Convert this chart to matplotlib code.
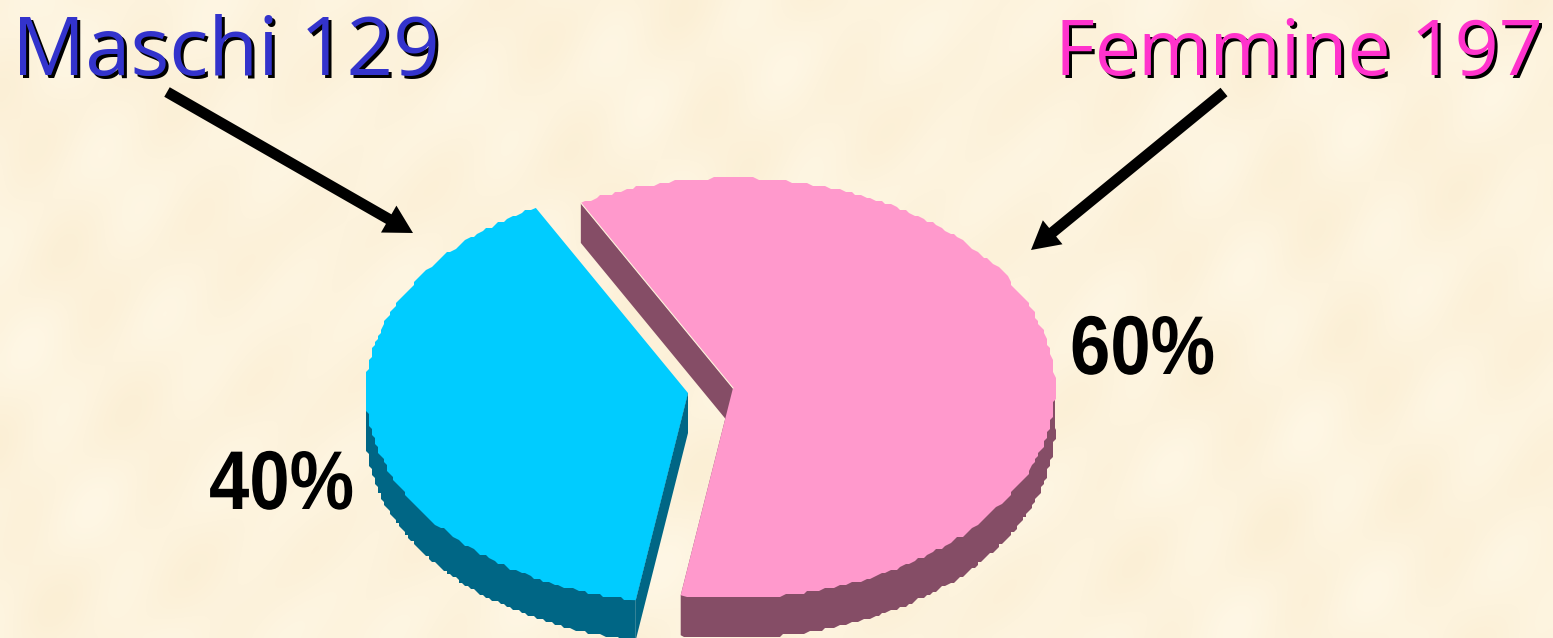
import numpy as np
import matplotlib
matplotlib.use("Agg")
import matplotlib.pyplot as plt
import matplotlib.patheffects as pe
from matplotlib.transforms import Affine2D

labels = ["Maschi", "Femmine"]
counts = [129, 197]
percent_labels = ["40%", "60%"]

W, H = 1553, 638
top_colors = {"Maschi": "#00CCFF", "Femmine": "#FF99CC"}
side_colors = {"Maschi": "#006685", "Femmine": "#854D66"}
text_colors = {"Maschi": "#3333CC", "Femmine": "#FF33CC"}

# pie geometry in pixels
rx, ry = 322, 210
depth = 40
start = 118.2
centers = {"Maschi": (688, 393), "Femmine": (733, 388)}


# squeezes text sideways, it stays a normal text object
class Squeeze(pe.AbstractPathEffect):
    def __init__(self, sx):
        super().__init__()
        self.sx = sx

    def draw_path(self, renderer, gc, tpath, affine, rgbFace=None):
        renderer.draw_path(gc, tpath, Affine2D().scale(self.sx, 1) + affine, rgbFace)


fig = plt.figure(figsize=(W / 100, H / 100), dpi=100)
ax = fig.add_axes([0, 0, 1, 1])
ax.set_xlim(0, W)
ax.set_ylim(H, 0)
ax.axis("off")

# parchment background, soft mottling
yy, xx = np.mgrid[0:H:4, 0:W:4]
mott = (np.sin(xx / 47.0 + yy / 91.0) * np.sin(xx / 71.0 - yy / 37.0 + 1.3)
        + np.sin(xx / 131.0 + yy / 29.0 + 2.1) * np.sin(xx / 19.0 + yy / 53.0)) / 2
bg = np.zeros(mott.shape + (3,))
bg[..., 0] = (253 + 1.5 * mott) / 255
bg[..., 1] = (243 + 4 * mott) / 255
bg[..., 2] = (221 + 8 * mott) / 255
ax.imshow(bg.clip(0, 1), extent=[0, W, H, 0], aspect="auto", zorder=0, interpolation="bicubic")


def rim(name, a, b, n=130):
    # the outline is slightly stepped, like the old 3D render
    t = np.radians(np.linspace(a, b, n))
    cx, cy = centers[name]
    x = cx + rx * np.cos(t)
    y = cy - ry * np.sin(t)
    x[1:-1] = np.round(x[1:-1] / 3) * 3
    y[1:-1] = np.round(y[1:-1] / 3) * 3
    return x, y


def wall(name, a, b):
    # lower rim, closed back through the centre so no gap shows under the top
    cx, cy = centers[name]
    xs, ys = rim(name, a, b)
    ax.fill(np.r_[cx, xs[0], xs, xs[-1]], np.r_[cy, ys[0], ys + depth, ys[-1]],
            color=side_colors[name], lw=0, zorder=2)


total = sum(counts)
fem_sweep = counts[1] / total * 360
fem_end = start - fem_sweep

# Femmine: walls first, top surface covers them
cx, cy = centers["Femmine"]
x, y = rim("Femmine", start, fem_end, 220)
ax.fill([x[0], cx, cx, x[0]], [y[0], cy, cy + depth, y[0] + depth],
        color=side_colors["Femmine"], lw=0, zorder=2)
wall("Femmine", 0, fem_end)
ax.fill(np.r_[cx, x], np.r_[cy, y], color=top_colors["Femmine"], lw=0, zorder=3)
# thin light line along the cut
ax.plot([x[0], cx], [y[0], cy], color="#FDF3DC", lw=0.8, zorder=4)

# Maschi
cx, cy = centers["Maschi"]
x, y = rim("Maschi", start, 360 + fem_end, 150)
ax.fill([x[-1], cx, cx, x[-1]], [y[-1], cy, cy + depth, y[-1] + depth],
        color=side_colors["Maschi"], lw=0, zorder=2)
wall("Maschi", 180, 360 + fem_end)
ax.fill(np.r_[cx, x], np.r_[cy, y], color=top_colors["Maschi"], lw=0, zorder=3)

# arrows
ax.arrow(167, 92, 246, 141, width=11, head_width=31, head_length=28,
         length_includes_head=True, color="black", lw=0, zorder=5)
ax.arrow(1224, 92, -193, 158, width=11, head_width=31, head_length=28,
         length_includes_head=True, color="black", lw=0, zorder=5)

# titles with shadow
font = ["Open Sans", "DejaVu Sans"]
for name, n, px, ha, size in [("Maschi", counts[0], 12, "left", 58.6),
                              ("Femmine", counts[1], 1543, "right", 55.5)]:
    s = f"{name} {n}"
    for dx, col, z in [(3, "black", 6), (0, text_colors[name], 7)]:
        ax.text(px + dx, 75 + dx, s, color=col, fontsize=size, family=font, ha=ha, va="baseline", zorder=z)

# percentages
bold = ["Liberation Sans", "DejaVu Sans"]
for s, px, py in [(percent_labels[0], 209, 509), (percent_labels[1], 1070, 374)]:
    ax.text(px, py, s, color="black", fontsize=60, fontweight="bold", family=bold,
            ha="left", va="baseline", zorder=6, path_effects=[Squeeze(0.87)])

fig.savefig("out.png", dpi=100)
